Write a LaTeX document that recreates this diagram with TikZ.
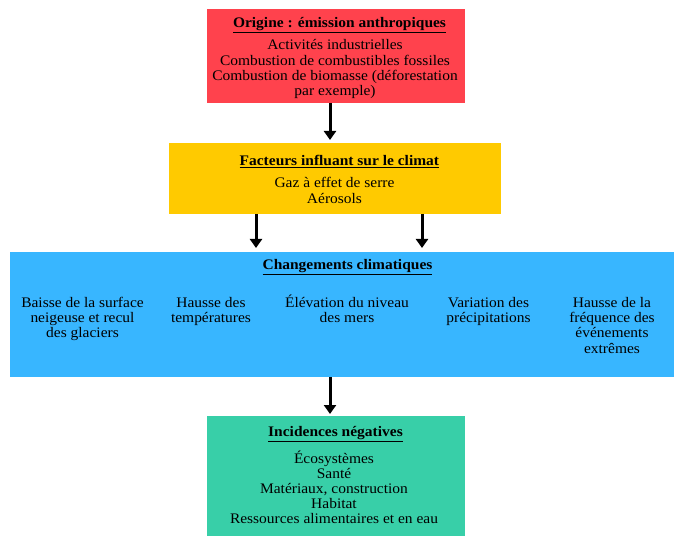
\documentclass[tikz,border=0pt]{standalone}
\usepackage{fontspec}
\setmainfont{Liberation Serif}[FakeStretch=1.06]
\usetikzlibrary{arrows.meta}
\definecolor{cred}{HTML}{FF424D}
\definecolor{cyel}{HTML}{FFCA00}
\definecolor{cblue}{HTML}{38B6FF}
\definecolor{cgreen}{HTML}{38CFA8}
\newcommand{\fst}{\rule{0pt}{13.5pt}}
\newcommand{\ul}[1]{\underline{#1}}
\newcommand{\myfnt}{\fontsize{14.6}{15.2}\selectfont\lineskiplimit-20pt\relax}
\tikzset{
  box/.style={draw=none,inner sep=0pt},
  txt/.style={align=center,font=\myfnt,inner sep=0pt,anchor=north},
  ttl/.style={align=center,font=\myfnt\bfseries,inner sep=0pt,anchor=north},
  arr/.style={line width=3pt,-{Triangle[length=9pt,width=12pt]}},
}
\begin{document}
\begin{tikzpicture}[x=1pt,y=-1pt]
\useasboundingbox (0,0) rectangle (675,537);
\fill[white] (0,0) rectangle (675,537);
\fill[cred] (207,9) rectangle (465,103);
\fill[cyel] (169,143) rectangle (501,214);
\fill[cblue] (10,252) rectangle (674,377);
\fill[cgreen] (207,416) rectangle (465,536);
\node[box] (red) at (336,56) [minimum width=258pt,minimum height=94pt] {};
\node[box] (yel) at (335,178.5) [minimum width=332pt,minimum height=71pt] {};
\node[box] (blue) at (342,314.5) [minimum width=664pt,minimum height=125pt] {};
\node[box] (green) at (336,476) [minimum width=258pt,minimum height=120pt] {};
% red
\node[ttl] (t1) at (339.5,14.2) {\fst\ul{Origine : émission anthropiques}};
\node[txt] (b1) at (335,36.3) {\fst Activités industrielles\\Combustion de combustibles fossiles\\Combustion de biomasse (déforestation\\par exemple)};
% yellow
\node[ttl] (t2) at (339.4,151.5) {\fst\ul{Facteurs influant sur le climat}};
\node[txt] (b2) at (334.5,174.3) {\fst Gaz à effet de serre\\Aérosols};
% blue
\node[ttl] (t3) at (347.5,255.8) {\fst\ul{Changements climatiques}};
\node[txt] (c1) at (82.5,293.8) {\fst Baisse de la surface\\neigeuse et recul\\des glaciers};
\node[txt] (c2) at (211,293.8) {\fst Hausse des\\températures};
\node[txt] (c3) at (347,293.8) {\fst Élévation du niveau\\des mers};
\node[txt] (c4) at (488.5,293.8) {\fst Variation des\\précipitations};
\node[txt] (c5) at (612,293.8) {\fst Hausse de la\\fréquence des\\événements\\extrêmes};
% green
\node[ttl] (t4) at (335.5,423.2) {\fst\ul{Incidences négatives}};
\node[txt] (b4) at (334,449.3) {\fst Écosystèmes\\Santé\\Matériaux, construction\\Habitat\\Ressources alimentaires et en eau};
% arrows
\coordinate (a1s) at (330,103); \coordinate (a1e) at (330,140);
\coordinate (a2s) at (256,214); \coordinate (a2e) at (256,248);
\coordinate (a3s) at (422,214); \coordinate (a3e) at (422,248);
\coordinate (a4s) at (330,377); \coordinate (a4e) at (330,414);
\draw[arr] (a1s) -- (a1e);
\draw[arr] (a2s) -- (a2e);
\draw[arr] (a3s) -- (a3e);
\draw[arr] (a4s) -- (a4e);
\end{tikzpicture}
\end{document}
